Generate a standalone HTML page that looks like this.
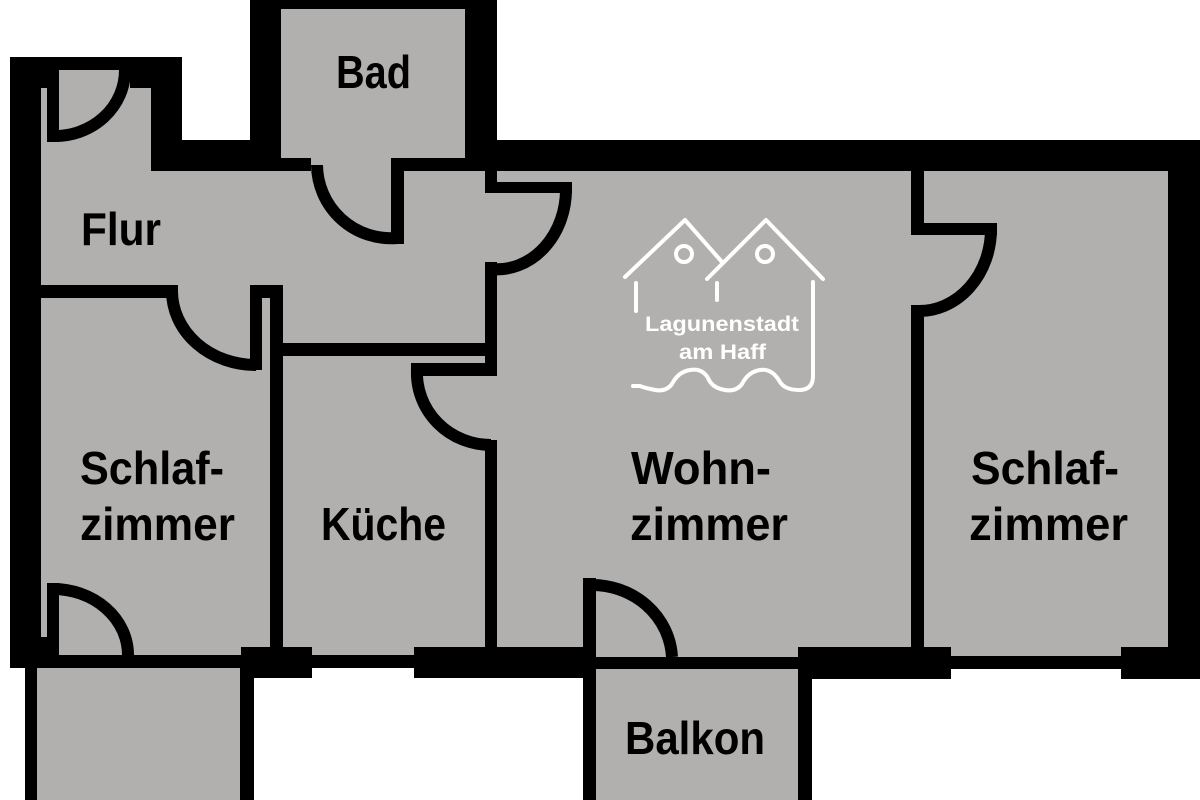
<!DOCTYPE html>
<html><head><meta charset="utf-8"><style>
html,body{margin:0;padding:0;background:#fff;}
svg{display:block;}
text{font-family:"Liberation Sans Narrow","Liberation Sans",sans-serif;font-weight:bold;}
</style></head><body>
<svg width="1200" height="800" viewBox="0 0 1200 800" xmlns="http://www.w3.org/2000/svg">
<g fill="#b1b0af">
<rect x="41" y="88" width="110" height="210"/>
<rect x="59" y="70" width="71" height="20"/>
<rect x="41" y="171" width="456" height="114"/>
<rect x="41" y="280" width="242" height="22"/>
<rect x="270" y="280" width="227" height="70"/>
<rect x="281" y="9" width="184" height="165"/>
<rect x="41" y="298" width="229" height="360"/>
<rect x="283" y="356" width="205" height="300"/>
<rect x="480" y="171" width="688" height="488"/>
<rect x="37" y="668" width="203" height="132"/>
<rect x="596" y="669" width="202" height="131"/>
</g>
<g fill="#000">
<rect x="10" y="57" width="31" height="611"/>
<rect x="10" y="57" width="172" height="13"/>
<rect x="10" y="57" width="49" height="31"/>
<rect x="47" y="70" width="12" height="72"/>
<rect x="130" y="57" width="52" height="31"/>
<rect x="151" y="57" width="31" height="114"/>
<rect x="151" y="140" width="119" height="31"/>
<rect x="250" y="0" width="31" height="171"/>
<rect x="250" y="0" width="247" height="9"/>
<rect x="465" y="0" width="32" height="171"/>
<rect x="250" y="158" width="61" height="13"/>
<rect x="391" y="158" width="74" height="13"/>
<rect x="391" y="158" width="13" height="86"/>
<rect x="465" y="140" width="735" height="31"/>
<rect x="1168" y="140" width="32" height="539"/>
<rect x="485" y="171" width="12" height="22"/>
<rect x="485" y="182" width="87" height="11"/>
<rect x="485" y="262" width="12" height="114"/>
<rect x="41" y="285" width="137" height="13"/>
<rect x="250" y="285" width="33" height="13"/>
<rect x="250" y="285" width="12" height="85"/>
<rect x="270" y="285" width="13" height="370"/>
<rect x="270" y="343" width="227" height="13"/>
<rect x="411" y="363" width="86" height="13"/>
<rect x="485" y="440" width="12" height="215"/>
<rect x="10" y="637" width="37" height="31"/>
<rect x="47" y="583" width="12" height="85"/>
<rect x="10" y="655" width="231" height="13"/>
<rect x="241" y="647" width="71" height="31"/>
<rect x="312" y="655" width="102" height="13"/>
<rect x="414" y="647" width="169" height="31"/>
<rect x="583" y="578" width="13" height="91"/>
<rect x="583" y="657" width="215" height="12"/>
<rect x="798" y="647" width="153" height="32"/>
<rect x="951" y="656" width="170" height="13"/>
<rect x="1121" y="647" width="79" height="32"/>
<rect x="911" y="171" width="13" height="64"/>
<rect x="911" y="223" width="86" height="12"/>
<rect x="911" y="305" width="13" height="346"/>
<rect x="25" y="668" width="12" height="132"/>
<rect x="240" y="668" width="14" height="132"/>
<rect x="583" y="669" width="13" height="131"/>
<rect x="798" y="679" width="14" height="121"/>
</g>
<g fill="none" stroke="#000" stroke-width="12">
<path d="M53 136 A70 66 0 0 0 125 70"/>
<path d="M317 165 A74 74 0 0 0 397 238"/>
<path d="M566 188 A69 80 0 0 1 491 269"/>
<path d="M172 291 A84 74 0 0 0 256 365"/>
<path d="M417 370 A74 72 0 0 0 491 445"/>
<path d="M53 589 A75 66 0 0 1 128 655"/>
<path d="M590 585 A80 76 0 0 1 672 657"/>
<path d="M991 229 A72 82 0 0 1 918 311"/>
</g>
<g fill="none" stroke="#fff" stroke-width="4" stroke-linecap="round" stroke-linejoin="round">
<polyline points="625,277 685,220 722,262"/>
<polyline points="707,279 766,220 823,279"/>
<line x1="636" y1="283" x2="636" y2="311"/>
<line x1="717" y1="283" x2="717" y2="300"/>
<circle cx="684" cy="254" r="8"/>
<circle cx="765" cy="254" r="8"/>
<path d="M813 282 L813 376 Q813 390 799 390 Q785 390 780 382 Q772 368 760 370 Q748 372 742 384 Q736 392 725 390 Q712 388 708 378 Q702 368 690 370 Q678 372 672 384 Q666 392 655 390 Q645 388 640 386 L633 386"/>
</g>
<g fill="#fff">
<text x="645" y="331" font-size="21" textLength="154" lengthAdjust="spacingAndGlyphs">Lagunenstadt</text>
<text x="679" y="359" font-size="21" textLength="87" lengthAdjust="spacingAndGlyphs">am Haff</text>
</g>
<g fill="#000" font-size="46">
<text x="336" y="88" textLength="75" lengthAdjust="spacingAndGlyphs">Bad</text>
<text x="81" y="245" textLength="80" lengthAdjust="spacingAndGlyphs">Flur</text>
<text x="80" y="484" textLength="144" lengthAdjust="spacingAndGlyphs">Schlaf-</text>
<text x="80" y="540" textLength="155" lengthAdjust="spacingAndGlyphs">zimmer</text>
<text x="321" y="540" textLength="125" lengthAdjust="spacingAndGlyphs">Küche</text>
<text x="631" y="484" textLength="140" lengthAdjust="spacingAndGlyphs">Wohn-</text>
<text x="630" y="540" textLength="158" lengthAdjust="spacingAndGlyphs">zimmer</text>
<text x="971" y="484" textLength="148" lengthAdjust="spacingAndGlyphs">Schlaf-</text>
<text x="969" y="540" textLength="159" lengthAdjust="spacingAndGlyphs">zimmer</text>
<text x="625" y="754" textLength="140" lengthAdjust="spacingAndGlyphs">Balkon</text>
</g>
</svg>
</body></html>
